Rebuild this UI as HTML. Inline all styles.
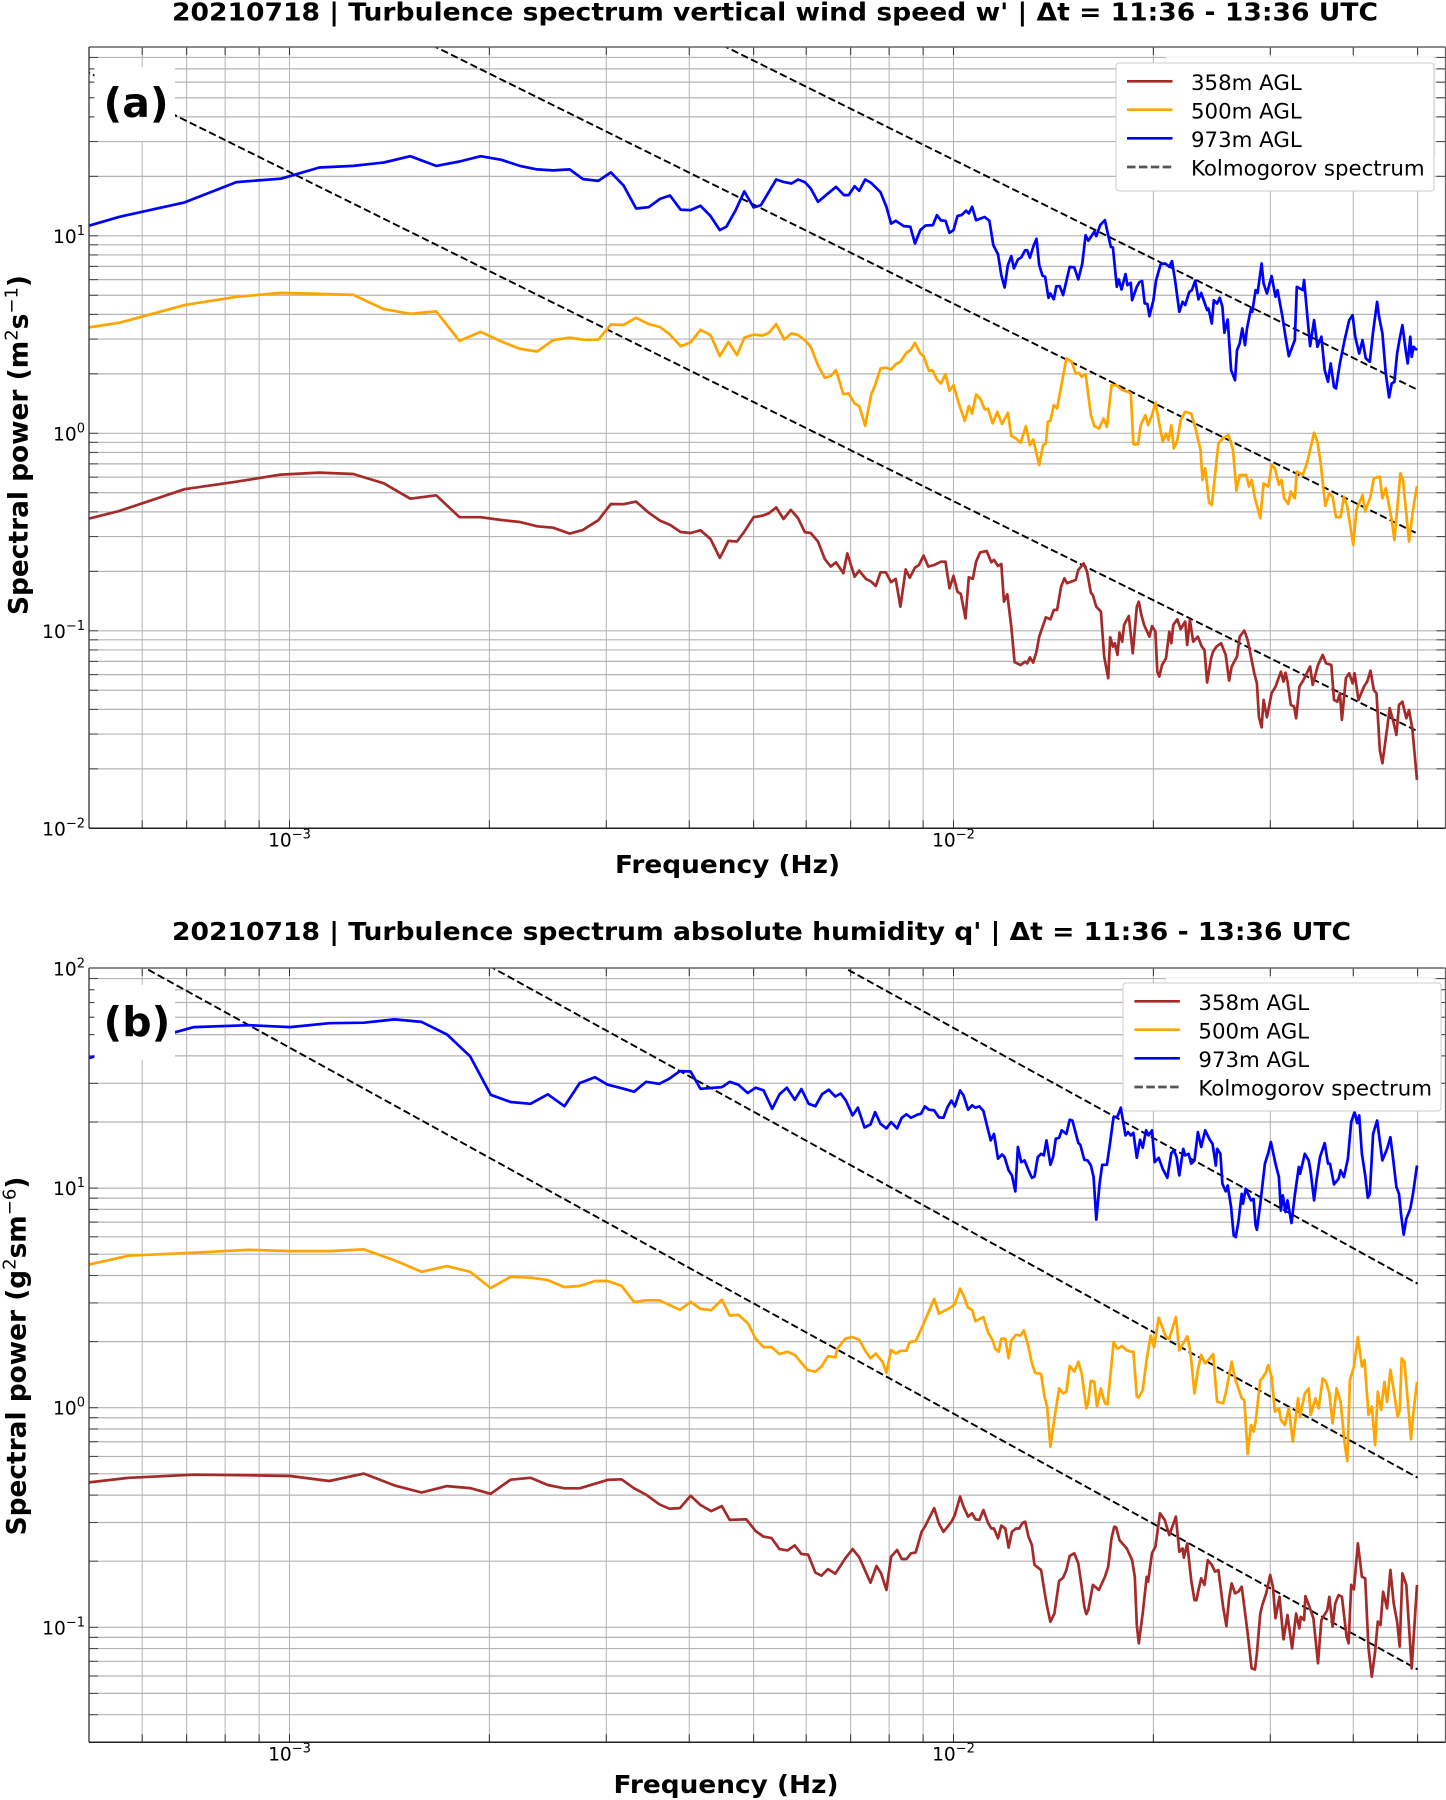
<!DOCTYPE html>
<html lang="en">
<head>
<meta charset="utf-8">
<title>Turbulence spectra</title>
<style>
html,body{margin:0;padding:0;background:#fff;}
svg{display:block;}
text{font-family:"DejaVu Sans","Liberation Sans",sans-serif;fill:#000;}
.title{font-size:24.5px;font-weight:bold;}
.axlabel{font-size:25px;font-weight:bold;}
.ylabel{font-size:26.4px;font-weight:bold;}
.tick{font-size:18.6px;}
.tsup{font-size:13px;}
.leg{font-size:21.3px;}
.panel{font-size:41px;font-weight:bold;}
</style>
</head>
<body>
<svg id="figure" width="1446" height="1800" viewBox="0 0 1446 1800" xmlns="http://www.w3.org/2000/svg">
<defs>
<clipPath id="clipA"><rect x="89" y="47" width="1357" height="781"/></clipPath>
<clipPath id="clipB"><rect x="89" y="968" width="1357" height="774"/></clipPath>
</defs>
<g id="chartA"></g>
<g id="chartB"></g>

<text class="title" x="172" y="20.5" textLength="1206" lengthAdjust="spacingAndGlyphs">20210718 | Turbulence spectrum vertical wind speed w' | Δt = 11:36 - 13:36 UTC</text>
<text class="title" x="172" y="940" textLength="1179" lengthAdjust="spacingAndGlyphs">20210718 | Turbulence spectrum absolute humidity q' | Δt = 11:36 - 13:36 UTC</text>

<text class="axlabel" x="615" y="873" textLength="225" lengthAdjust="spacingAndGlyphs">Frequency (Hz)</text>
<text class="axlabel" x="613.5" y="1793" textLength="225" lengthAdjust="spacingAndGlyphs">Frequency (Hz)</text>

<text class="ylabel" text-anchor="middle" transform="translate(27.5,445) rotate(-90)">Spectral power (m<tspan dy="-10" font-size="18" font-weight="normal">2</tspan><tspan dy="10">s</tspan><tspan dy="-10" font-size="18" font-weight="normal">−1</tspan><tspan dy="10">)</tspan></text>
<text class="ylabel" text-anchor="middle" transform="translate(25.5,1356) rotate(-90)">Spectral power (g<tspan dy="-10" font-size="18" font-weight="normal">2</tspan><tspan dy="10">sm</tspan><tspan dy="-10" font-size="18" font-weight="normal">−6</tspan><tspan dy="10">)</tspan></text>

<g>
<rect x="94.5" y="67" width="80.5" height="74" fill="#fff"/>
<text class="panel" x="103.5" y="117">(a)</text>
</g>
<g>
<rect x="94.5" y="985" width="80.5" height="75" fill="#fff"/>
<text class="panel" x="103.5" y="1036">(b)</text>
</g>

<g>
<rect x="1165" y="57" width="270" height="100" rx="3" fill="#fff" stroke="#eee" stroke-width="1"/>
<rect x="1116" y="63" width="318" height="128" rx="3" fill="#fff" stroke="#ccc" stroke-width="1"/>
<line x1="1127" x2="1172.5" y1="81.3" y2="81.3" stroke="#a52a2a" stroke-width="2.7"/>
<line x1="1127" x2="1172.5" y1="109.7" y2="109.7" stroke="#ffa500" stroke-width="2.7"/>
<line x1="1127" x2="1172.5" y1="138.3" y2="138.3" stroke="#0000ff" stroke-width="2.7"/>
<line x1="1127" x2="1172.5" y1="167" y2="167" stroke="#555" stroke-width="2.7" stroke-dasharray="8.5 3.4"/>
<text class="leg" x="1191" y="90">358m AGL</text>
<text class="leg" x="1191" y="118.5">500m AGL</text>
<text class="leg" x="1191" y="147">973m AGL</text>
<text class="leg" x="1191" y="175.5">Kolmogorov spectrum</text>
</g>

<g>
<rect x="1165" y="978" width="270" height="100" rx="3" fill="#fff" stroke="#eee" stroke-width="1"/>
<rect x="1123" y="983" width="318" height="128" rx="3" fill="#fff" stroke="#ccc" stroke-width="1"/>
<line x1="1134.4" x2="1179.9" y1="1001.3" y2="1001.3" stroke="#a52a2a" stroke-width="2.7"/>
<line x1="1134.4" x2="1179.9" y1="1029.7" y2="1029.7" stroke="#ffa500" stroke-width="2.7"/>
<line x1="1134.4" x2="1179.9" y1="1058.3" y2="1058.3" stroke="#0000ff" stroke-width="2.7"/>
<line x1="1134.4" x2="1179.9" y1="1087" y2="1087" stroke="#555" stroke-width="2.7" stroke-dasharray="8.5 3.4"/>
<text class="leg" x="1198.4" y="1010">358m AGL</text>
<text class="leg" x="1198.4" y="1038.5">500m AGL</text>
<text class="leg" x="1198.4" y="1067">973m AGL</text>
<text class="leg" x="1198.4" y="1095.5">Kolmogorov spectrum</text>
</g>
</svg>

<script>
// All spectrum values are log10 of the plotted quantity (both axes are logarithmic).
const xTickExponents = [-3, -2];
const minorMultipliers = [2, 3, 4, 5, 6, 7, 8, 9];
const yTickExponentsA = [-2, -1, 0, 1];
const yTickExponentsB = [-1, 0, 1, 2];
const kolmogorovEndPowerA = [0.031, 0.31, 1.66];
const kolmogorovEndPowerB = [0.0643, 0.48, 3.67];
const kolmogorovEndFrequency = [0.05];
const kolmogorovStartFrequency = [0.0004];

const logFreqLowA = [-3.302,-3.256,-3.158,-3.080,-3.013,-2.955,-2.904,-2.858,-2.818,-2.779,-2.744,-2.712,-2.681,-2.653,-2.627,-2.603,-2.578,-2.558,-2.535,-2.516,-2.497,-2.478,-2.459,-2.442,-2.427,-2.411,-2.396,-2.381,-2.366,-2.352];

const logPowerLowA973 = [1.051,1.096,1.169,1.272,1.289,1.346,1.354,1.371,1.403,1.354,1.376,1.403,1.385,1.354,1.336,1.331,1.336,1.287,1.278,1.321,1.255,1.138,1.145,1.187,1.204,1.132,1.130,1.152,1.100,1.029];
const logFreqHighA973 = [-2.342,-2.328,-2.315,-2.301,-2.290,-2.267,-2.255,-2.244,-2.234,-2.224,-2.215,-2.204,-2.177,-2.165,-2.158,-2.149,-2.142,-2.133,-2.124,-2.110,-2.101,-2.094,-2.087,-2.075,-2.065,-2.058,-2.050,-2.042,-2.031,-2.025,-2.019,-2.012,-2.006,-2.000,-1.994,-1.988,-1.981,-1.977,-1.972,-1.966,-1.953,-1.946,-1.940,-1.933,-1.928,-1.923,-1.918,-1.913,-1.909,-1.903,-1.898,-1.892,-1.889,-1.885,-1.879,-1.875,-1.871,-1.866,-1.862,-1.857,-1.854,-1.849,-1.845,-1.840,-1.835,-1.825,-1.818,-1.812,-1.806,-1.801,-1.797,-1.788,-1.785,-1.779,-1.772,-1.766,-1.763,-1.760,-1.754,-1.751,-1.747,-1.741,-1.738,-1.733,-1.731,-1.724,-1.720,-1.716,-1.712,-1.708,-1.705,-1.699,-1.695,-1.688,-1.681,-1.675,-1.671,-1.666,-1.660,-1.655,-1.651,-1.645,-1.641,-1.636,-1.631,-1.627,-1.618,-1.616,-1.611,-1.608,-1.603,-1.599,-1.595,-1.592,-1.587,-1.582,-1.576,-1.573,-1.569,-1.565,-1.561,-1.558,-1.552,-1.550,-1.545,-1.542,-1.536,-1.533,-1.528,-1.521,-1.515,-1.512,-1.505,-1.500,-1.495,-1.486,-1.483,-1.474,-1.472,-1.467,-1.463,-1.457,-1.452,-1.446,-1.441,-1.436,-1.432,-1.427,-1.424,-1.418,-1.411,-1.404,-1.399,-1.395,-1.389,-1.384,-1.379,-1.373,-1.368,-1.362,-1.359,-1.354,-1.349,-1.344,-1.340,-1.336,-1.332,-1.328,-1.324,-1.319,-1.316,-1.312,-1.310,-1.307,-1.302];
const logPowerHighA973 = [1.046,1.130,1.225,1.144,1.155,1.285,1.272,1.265,1.285,1.272,1.240,1.172,1.248,1.206,1.206,1.251,1.228,1.285,1.268,1.221,1.147,1.062,1.076,1.049,1.046,0.961,1.029,1.052,1.054,1.105,1.078,1.076,1.015,1.029,1.100,1.105,1.127,1.113,1.147,1.079,1.095,1.076,0.953,0.907,0.801,0.738,0.852,0.897,0.835,0.880,0.890,0.927,0.927,0.889,0.953,0.985,0.852,0.798,0.793,0.686,0.708,0.679,0.745,0.745,0.700,0.843,0.840,0.779,0.860,1.003,0.975,1.020,0.998,1.054,1.079,0.987,0.944,0.941,0.742,0.779,0.728,0.806,0.750,0.762,0.674,0.742,0.765,0.771,0.658,0.654,0.593,0.674,0.772,0.857,0.860,0.843,0.872,0.767,0.615,0.666,0.649,0.715,0.725,0.772,0.678,0.711,0.624,0.632,0.556,0.674,0.657,0.686,0.640,0.509,0.576,0.320,0.269,0.421,0.455,0.531,0.446,0.531,0.632,0.615,0.725,0.711,0.860,0.759,0.708,0.796,0.691,0.725,0.598,0.489,0.391,0.472,0.742,0.725,0.776,0.590,0.441,0.573,0.438,0.489,0.320,0.261,0.354,0.235,0.227,0.354,0.472,0.573,0.598,0.489,0.404,0.472,0.379,0.362,0.514,0.666,0.590,0.506,0.303,0.182,0.252,0.261,0.404,0.480,0.548,0.421,0.354,0.489,0.387,0.438,0.421];

const logPowerLowA500 = [0.536,0.560,0.649,0.691,0.711,0.706,0.701,0.629,0.605,0.617,0.468,0.514,0.465,0.428,0.414,0.472,0.484,0.474,0.474,0.551,0.549,0.585,0.553,0.538,0.500,0.441,0.460,0.524,0.497,0.391];
const logFreqHighA500 = [-2.339,-2.326,-2.315,-2.301,-2.288,-2.278,-2.267,-2.255,-2.244,-2.234,-2.224,-2.215,-2.204,-2.194,-2.185,-2.177,-2.166,-2.158,-2.149,-2.142,-2.133,-2.124,-2.118,-2.110,-2.101,-2.094,-2.087,-2.080,-2.071,-2.064,-2.058,-2.050,-2.045,-2.037,-2.032,-2.025,-2.019,-2.012,-2.006,-2.000,-1.992,-1.983,-1.977,-1.972,-1.966,-1.960,-1.953,-1.948,-1.941,-1.934,-1.927,-1.918,-1.913,-1.906,-1.899,-1.891,-1.885,-1.880,-1.871,-1.865,-1.861,-1.858,-1.854,-1.849,-1.844,-1.838,-1.830,-1.822,-1.816,-1.811,-1.807,-1.801,-1.793,-1.788,-1.781,-1.774,-1.769,-1.762,-1.755,-1.746,-1.737,-1.733,-1.729,-1.727,-1.722,-1.718,-1.711,-1.707,-1.701,-1.696,-1.691,-1.685,-1.680,-1.676,-1.672,-1.668,-1.663,-1.658,-1.651,-1.642,-1.635,-1.628,-1.625,-1.621,-1.615,-1.611,-1.601,-1.594,-1.586,-1.579,-1.574,-1.569,-1.559,-1.555,-1.551,-1.546,-1.538,-1.533,-1.526,-1.521,-1.516,-1.510,-1.506,-1.502,-1.496,-1.492,-1.486,-1.483,-1.474,-1.467,-1.457,-1.452,-1.447,-1.440,-1.434,-1.429,-1.424,-1.417,-1.412,-1.407,-1.398,-1.393,-1.384,-1.380,-1.372,-1.367,-1.358,-1.354,-1.349,-1.340,-1.336,-1.327,-1.323,-1.314,-1.308,-1.302];
const logPowerHighA500 = [0.463,0.396,0.484,0.500,0.495,0.509,0.553,0.475,0.506,0.497,0.472,0.438,0.345,0.281,0.290,0.320,0.198,0.202,0.151,0.138,0.038,0.197,0.244,0.328,0.332,0.323,0.350,0.362,0.408,0.424,0.458,0.404,0.391,0.316,0.320,0.273,0.252,0.300,0.215,0.244,0.151,0.063,0.138,0.100,0.197,0.176,0.121,0.124,0.050,0.109,0.047,0.104,-0.014,-0.026,-0.048,0.036,-0.060,-0.031,-0.161,-0.060,-0.052,0.058,0.063,0.143,0.126,0.235,0.379,0.362,0.303,0.306,0.286,0.300,0.092,0.036,0.024,0.075,0.033,0.244,0.244,0.219,0.210,0.202,-0.052,-0.057,-0.055,0.041,0.092,0.041,0.092,0.156,0.067,-0.043,-0.001,-0.035,0.041,-0.077,-0.035,0.067,0.109,0.100,0.016,-0.085,-0.236,-0.177,-0.351,-0.363,-0.051,-0.025,-0.008,-0.084,-0.290,-0.211,-0.211,-0.270,-0.236,-0.329,-0.430,-0.253,-0.270,-0.160,-0.177,-0.261,-0.236,-0.329,-0.358,-0.295,-0.329,-0.194,-0.211,-0.143,0.003,-0.042,-0.152,-0.368,-0.304,-0.321,-0.425,-0.425,-0.321,-0.371,-0.565,-0.388,-0.312,-0.396,-0.321,-0.228,-0.219,-0.329,-0.278,-0.439,-0.540,-0.202,-0.236,-0.548,-0.388,-0.267];

const logPowerLowA358 = [-0.432,-0.393,-0.283,-0.245,-0.209,-0.199,-0.206,-0.253,-0.331,-0.314,-0.425,-0.425,-0.439,-0.449,-0.471,-0.478,-0.508,-0.489,-0.440,-0.358,-0.359,-0.346,-0.402,-0.442,-0.464,-0.500,-0.505,-0.491,-0.535,-0.631];
const logFreqHighA358 = [-2.347,-2.339,-2.326,-2.315,-2.301,-2.288,-2.278,-2.267,-2.256,-2.245,-2.234,-2.224,-2.215,-2.204,-2.194,-2.185,-2.177,-2.166,-2.160,-2.149,-2.142,-2.132,-2.124,-2.117,-2.110,-2.102,-2.094,-2.087,-2.080,-2.072,-2.066,-2.058,-2.052,-2.045,-2.038,-2.029,-2.019,-2.012,-2.006,-2.000,-1.994,-1.989,-1.982,-1.977,-1.971,-1.966,-1.960,-1.950,-1.943,-1.939,-1.933,-1.928,-1.924,-1.919,-1.913,-1.908,-1.899,-1.892,-1.889,-1.885,-1.880,-1.875,-1.871,-1.861,-1.854,-1.849,-1.844,-1.838,-1.833,-1.829,-1.816,-1.812,-1.804,-1.799,-1.793,-1.790,-1.785,-1.778,-1.773,-1.767,-1.764,-1.760,-1.757,-1.753,-1.750,-1.746,-1.743,-1.736,-1.730,-1.724,-1.721,-1.717,-1.713,-1.705,-1.701,-1.696,-1.693,-1.690,-1.686,-1.680,-1.675,-1.672,-1.669,-1.663,-1.658,-1.651,-1.648,-1.644,-1.639,-1.632,-1.626,-1.622,-1.618,-1.612,-1.609,-1.604,-1.597,-1.590,-1.585,-1.581,-1.573,-1.569,-1.562,-1.557,-1.547,-1.543,-1.540,-1.536,-1.533,-1.528,-1.521,-1.515,-1.507,-1.503,-1.500,-1.497,-1.492,-1.487,-1.484,-1.479,-1.473,-1.463,-1.459,-1.451,-1.444,-1.439,-1.431,-1.427,-1.422,-1.418,-1.415,-1.409,-1.404,-1.399,-1.396,-1.390,-1.382,-1.377,-1.372,-1.367,-1.363,-1.358,-1.354,-1.347,-1.343,-1.337,-1.333,-1.329,-1.324,-1.318,-1.314,-1.309,-1.302];
const logPowerHighA358 = [-0.599,-0.545,-0.548,-0.498,-0.425,-0.417,-0.405,-0.375,-0.434,-0.388,-0.430,-0.501,-0.505,-0.548,-0.636,-0.675,-0.653,-0.709,-0.608,-0.726,-0.695,-0.737,-0.751,-0.773,-0.704,-0.704,-0.754,-0.737,-0.878,-0.689,-0.731,-0.680,-0.667,-0.619,-0.675,-0.667,-0.650,-0.650,-0.785,-0.722,-0.802,-0.813,-0.937,-0.729,-0.737,-0.650,-0.603,-0.596,-0.653,-0.641,-0.672,-0.662,-0.852,-0.815,-0.979,-1.159,-1.173,-1.156,-1.165,-1.134,-1.161,-1.105,-1.030,-0.932,-0.942,-0.894,-0.894,-0.776,-0.734,-0.759,-0.743,-0.692,-0.658,-0.700,-0.807,-0.819,-0.878,-0.903,-1.131,-1.240,-1.033,-1.080,-1.063,-1.122,-1.009,-1.055,-0.970,-0.925,-1.114,-0.878,-0.852,-0.920,-0.970,-1.030,-0.976,-1.004,-1.207,-1.232,-1.173,-1.139,-1.004,-1.063,-0.970,-0.942,-0.992,-0.953,-1.072,-0.945,-1.055,-1.030,-1.080,-1.097,-1.262,-1.139,-1.105,-1.080,-1.063,-1.122,-1.252,-1.181,-1.131,-1.030,-0.999,-1.047,-1.215,-1.266,-1.435,-1.489,-1.350,-1.438,-1.316,-1.283,-1.207,-1.257,-1.212,-1.257,-1.375,-1.384,-1.443,-1.283,-1.249,-1.181,-1.274,-1.173,-1.122,-1.164,-1.173,-1.350,-1.359,-1.316,-1.451,-1.240,-1.215,-1.266,-1.215,-1.350,-1.283,-1.257,-1.202,-1.300,-1.316,-1.603,-1.671,-1.494,-1.392,-1.468,-1.527,-1.375,-1.359,-1.443,-1.401,-1.494,-1.755];

const logFreqLowB973 = [-3.302,-3.172,-3.144,-3.061,-2.999,-2.940,-2.888,-2.842,-2.801,-2.763,-2.728,-2.697,-2.667,-2.637,-2.611,-2.586,-2.563,-2.540,-2.521,-2.500,-2.481,-2.463,-2.443,-2.428,-2.412,-2.396,-2.381,-2.349];
const logPowerLowB973 = [1.592,1.710,1.733,1.742,1.733,1.751,1.753,1.768,1.757,1.700,1.600,1.425,1.392,1.384,1.427,1.373,1.478,1.505,1.471,1.455,1.439,1.484,1.475,1.498,1.533,1.531,1.452,1.460];
const logFreqHighB973 = [-2.347,-2.337,-2.324,-2.310,-2.298,-2.286,-2.273,-2.262,-2.251,-2.239,-2.229,-2.218,-2.208,-2.198,-2.188,-2.178,-2.170,-2.162,-2.152,-2.144,-2.134,-2.125,-2.118,-2.110,-2.101,-2.094,-2.085,-2.078,-2.071,-2.064,-2.055,-2.049,-2.043,-2.037,-2.029,-2.022,-2.015,-2.009,-2.003,-1.998,-1.990,-1.985,-1.978,-1.972,-1.967,-1.961,-1.955,-1.948,-1.944,-1.939,-1.933,-1.927,-1.923,-1.917,-1.912,-1.907,-1.903,-1.898,-1.893,-1.887,-1.882,-1.878,-1.873,-1.868,-1.864,-1.860,-1.854,-1.850,-1.846,-1.841,-1.837,-1.830,-1.825,-1.821,-1.812,-1.809,-1.803,-1.798,-1.793,-1.789,-1.785,-1.780,-1.776,-1.769,-1.764,-1.759,-1.753,-1.748,-1.741,-1.737,-1.733,-1.729,-1.724,-1.719,-1.715,-1.710,-1.706,-1.701,-1.697,-1.691,-1.685,-1.678,-1.672,-1.668,-1.664,-1.660,-1.654,-1.651,-1.646,-1.642,-1.637,-1.632,-1.627,-1.621,-1.614,-1.610,-1.605,-1.603,-1.598,-1.595,-1.590,-1.587,-1.582,-1.578,-1.575,-1.571,-1.566,-1.564,-1.560,-1.552,-1.548,-1.545,-1.543,-1.538,-1.531,-1.526,-1.522,-1.515,-1.510,-1.507,-1.504,-1.500,-1.497,-1.491,-1.486,-1.480,-1.478,-1.471,-1.465,-1.462,-1.457,-1.453,-1.448,-1.441,-1.436,-1.433,-1.427,-1.420,-1.417,-1.412,-1.406,-1.401,-1.396,-1.392,-1.389,-1.385,-1.380,-1.376,-1.373,-1.368,-1.362,-1.354,-1.347,-1.342,-1.338,-1.333,-1.329,-1.326,-1.322,-1.318,-1.312,-1.308,-1.302];
const logPowerHighB973 = [1.463,1.484,1.471,1.433,1.457,1.445,1.361,1.427,1.457,1.402,1.451,1.384,1.373,1.427,1.448,1.417,1.431,1.399,1.331,1.366,1.276,1.290,1.346,1.293,1.272,1.301,1.272,1.320,1.336,1.320,1.334,1.339,1.372,1.357,1.354,1.322,1.320,1.369,1.399,1.372,1.445,1.422,1.357,1.377,1.366,1.372,1.351,1.266,1.217,1.247,1.134,1.153,1.141,1.081,1.058,0.985,1.187,1.118,1.126,1.081,1.047,1.053,1.141,1.156,1.149,1.217,1.106,1.141,1.225,1.229,1.263,1.247,1.311,1.308,1.206,1.197,1.129,1.126,1.103,1.050,0.856,1.020,1.106,1.106,1.210,1.323,1.326,1.366,1.240,1.255,1.240,1.252,1.138,1.220,1.184,1.263,1.240,1.263,1.118,1.138,1.088,1.047,1.159,1.172,1.141,1.058,1.179,1.149,1.156,1.111,1.126,1.255,1.187,1.263,1.220,1.202,1.103,1.179,1.156,1.020,0.985,1.012,0.913,0.784,0.777,0.845,0.974,0.929,0.997,0.944,0.951,0.830,0.810,0.929,1.111,1.159,1.210,1.111,1.050,0.898,0.967,0.891,0.944,0.841,0.967,1.096,1.065,1.156,1.126,1.073,0.944,1.043,1.141,1.205,1.111,1.111,1.017,1.043,1.081,1.050,1.134,1.301,1.346,1.296,1.331,1.156,1.058,0.956,0.974,1.247,1.308,1.126,1.179,1.232,1.134,1.005,0.974,0.883,0.788,0.860,0.906,0.974,1.103];

const logFreqLowB500 = [-3.302,-3.242,-3.144,-3.061,-2.999,-2.940,-2.888,-2.842,-2.801,-2.763,-2.728,-2.697,-2.667,-2.637,-2.611,-2.586,-2.563,-2.540,-2.521,-2.500,-2.481,-2.463,-2.443,-2.412,-2.396,-2.381,-2.365,-2.349];
const logPowerLowB500 = [0.652,0.692,0.706,0.719,0.713,0.713,0.721,0.671,0.619,0.645,0.619,0.545,0.596,0.592,0.581,0.549,0.554,0.577,0.577,0.555,0.481,0.489,0.489,0.446,0.482,0.450,0.444,0.492];
const logFreqHighB500 = [-2.347,-2.337,-2.324,-2.309,-2.298,-2.286,-2.274,-2.262,-2.250,-2.239,-2.220,-2.208,-2.199,-2.189,-2.178,-2.175,-2.163,-2.153,-2.142,-2.132,-2.125,-2.117,-2.107,-2.101,-2.094,-2.087,-2.080,-2.071,-2.066,-2.057,-2.045,-2.029,-2.022,-2.003,-1.998,-1.990,-1.985,-1.978,-1.972,-1.967,-1.955,-1.948,-1.941,-1.937,-1.932,-1.928,-1.922,-1.917,-1.913,-1.906,-1.899,-1.894,-1.887,-1.882,-1.877,-1.868,-1.863,-1.859,-1.854,-1.848,-1.841,-1.835,-1.830,-1.825,-1.818,-1.812,-1.807,-1.800,-1.797,-1.793,-1.788,-1.784,-1.778,-1.772,-1.768,-1.760,-1.759,-1.753,-1.746,-1.739,-1.733,-1.729,-1.724,-1.721,-1.715,-1.709,-1.703,-1.698,-1.691,-1.680,-1.675,-1.665,-1.660,-1.648,-1.644,-1.642,-1.637,-1.632,-1.627,-1.621,-1.614,-1.609,-1.603,-1.594,-1.590,-1.581,-1.576,-1.571,-1.566,-1.562,-1.557,-1.552,-1.548,-1.545,-1.538,-1.535,-1.529,-1.526,-1.521,-1.516,-1.510,-1.507,-1.501,-1.495,-1.489,-1.481,-1.478,-1.471,-1.465,-1.462,-1.455,-1.450,-1.444,-1.439,-1.434,-1.429,-1.423,-1.417,-1.411,-1.407,-1.403,-1.397,-1.391,-1.385,-1.381,-1.375,-1.370,-1.365,-1.361,-1.356,-1.351,-1.347,-1.342,-1.337,-1.331,-1.328,-1.325,-1.321,-1.311,-1.308,-1.302];
const logPowerHighB500 = [0.481,0.420,0.423,0.382,0.314,0.276,0.276,0.244,0.255,0.240,0.172,0.164,0.187,0.235,0.229,0.268,0.314,0.322,0.309,0.255,0.225,0.247,0.209,0.159,0.263,0.247,0.258,0.260,0.299,0.303,0.382,0.496,0.428,0.458,0.473,0.542,0.511,0.455,0.446,0.394,0.413,0.344,0.306,0.268,0.255,0.314,0.314,0.225,0.306,0.332,0.329,0.352,0.276,0.202,0.159,0.153,0.050,0.005,-0.178,-0.049,0.088,0.065,0.073,0.190,0.164,0.209,0.156,-0.003,0.027,0.123,0.118,0.005,0.088,0.020,0.015,0.263,0.299,0.268,0.281,0.261,0.255,0.255,0.050,0.047,0.080,0.220,0.329,0.276,0.410,0.322,0.314,0.413,0.261,0.325,0.268,0.217,0.065,0.172,0.240,0.202,0.225,0.244,0.027,0.020,0.065,0.209,0.134,0.088,0.043,0.035,-0.211,-0.079,-0.109,-0.064,0.126,0.134,0.164,0.194,0.141,-0.018,-0.003,-0.056,-0.079,-0.003,-0.155,0.043,-0.041,0.065,0.088,-0.033,0.043,-0.003,0.134,0.118,0.065,-0.071,0.088,0.027,-0.162,-0.243,0.126,0.187,0.322,0.187,0.217,-0.033,0.005,-0.170,0.073,-0.011,0.118,0.027,0.172,0.080,-0.041,-0.011,0.225,0.209,-0.144,-0.041,0.118];

const logFreqLowB358 = [-3.302,-3.242,-3.144,-3.061,-2.999,-2.940,-2.888,-2.842,-2.801,-2.763,-2.728,-2.697,-2.667,-2.637,-2.611,-2.586,-2.563,-2.521,-2.500,-2.481,-2.463,-2.443,-2.428,-2.412,-2.396,-2.381,-2.365,-2.349];
const logPowerLowB358 = [-0.340,-0.319,-0.305,-0.308,-0.311,-0.334,-0.300,-0.354,-0.386,-0.357,-0.366,-0.392,-0.328,-0.319,-0.352,-0.367,-0.367,-0.329,-0.326,-0.367,-0.396,-0.440,-0.460,-0.457,-0.401,-0.443,-0.471,-0.448];
const logFreqHighB358 = [-2.347,-2.337,-2.312,-2.298,-2.286,-2.274,-2.262,-2.250,-2.239,-2.229,-2.219,-2.208,-2.199,-2.189,-2.178,-2.163,-2.152,-2.142,-2.125,-2.116,-2.109,-2.101,-2.094,-2.085,-2.078,-2.071,-2.064,-2.057,-2.048,-2.043,-2.029,-2.022,-2.015,-2.003,-1.998,-1.990,-1.985,-1.978,-1.972,-1.967,-1.961,-1.955,-1.948,-1.943,-1.939,-1.933,-1.928,-1.922,-1.917,-1.912,-1.906,-1.901,-1.896,-1.892,-1.887,-1.882,-1.878,-1.868,-1.863,-1.859,-1.854,-1.848,-1.841,-1.835,-1.830,-1.825,-1.818,-1.812,-1.807,-1.803,-1.800,-1.797,-1.790,-1.785,-1.781,-1.772,-1.767,-1.762,-1.758,-1.755,-1.750,-1.739,-1.731,-1.727,-1.724,-1.721,-1.715,-1.709,-1.707,-1.701,-1.696,-1.689,-1.682,-1.675,-1.665,-1.660,-1.655,-1.653,-1.648,-1.642,-1.637,-1.634,-1.631,-1.627,-1.622,-1.617,-1.611,-1.606,-1.601,-1.594,-1.589,-1.585,-1.581,-1.576,-1.571,-1.566,-1.562,-1.557,-1.551,-1.546,-1.543,-1.538,-1.535,-1.529,-1.523,-1.519,-1.515,-1.509,-1.503,-1.497,-1.490,-1.484,-1.479,-1.477,-1.472,-1.470,-1.464,-1.458,-1.451,-1.446,-1.437,-1.434,-1.429,-1.425,-1.420,-1.415,-1.408,-1.405,-1.401,-1.397,-1.391,-1.385,-1.380,-1.375,-1.370,-1.365,-1.361,-1.357,-1.353,-1.347,-1.342,-1.337,-1.332,-1.328,-1.324,-1.318,-1.310,-1.302];
const logPowerHighB358 = [-0.458,-0.511,-0.508,-0.562,-0.587,-0.594,-0.644,-0.650,-0.627,-0.666,-0.669,-0.751,-0.765,-0.735,-0.756,-0.686,-0.644,-0.681,-0.797,-0.721,-0.754,-0.830,-0.678,-0.648,-0.689,-0.689,-0.663,-0.659,-0.565,-0.542,-0.457,-0.527,-0.565,-0.519,-0.489,-0.405,-0.451,-0.496,-0.481,-0.508,-0.511,-0.466,-0.524,-0.550,-0.550,-0.595,-0.537,-0.550,-0.637,-0.565,-0.550,-0.550,-0.524,-0.519,-0.587,-0.625,-0.716,-0.739,-0.838,-0.906,-0.975,-0.937,-0.789,-0.774,-0.739,-0.675,-0.663,-0.709,-0.815,-0.906,-0.940,-0.921,-0.807,-0.820,-0.830,-0.770,-0.724,-0.595,-0.542,-0.545,-0.603,-0.641,-0.694,-0.770,-0.990,-1.073,-0.937,-0.770,-0.792,-0.663,-0.633,-0.481,-0.511,-0.580,-0.496,-0.656,-0.641,-0.683,-0.618,-0.785,-0.876,-0.876,-0.830,-0.777,-0.807,-0.694,-0.716,-0.747,-0.739,-0.906,-0.994,-0.868,-0.800,-0.845,-0.838,-0.815,-0.906,-1.028,-1.187,-1.192,-1.119,-0.937,-0.899,-0.845,-0.762,-0.815,-0.959,-0.861,-1.055,-0.944,-1.096,-0.937,-1.005,-0.952,-0.967,-0.858,-0.906,-0.959,-1.164,-0.967,-0.921,-0.861,-0.997,-0.891,-0.853,-0.861,-1.043,-1.073,-0.807,-0.827,-0.618,-0.770,-0.777,-1.096,-1.225,-1.111,-0.974,-0.990,-0.838,-0.914,-0.739,-0.891,-0.974,-1.088,-0.754,-0.807,-1.187,-0.807];

const NS = 'http://www.w3.org/2000/svg';
const X0 = 289.5, XDEC = 664, XL = 89, XR = 1445.5;

function xPos(logF) { return X0 + XDEC * (logF + 3); }

function addLine(parent, name, x1, y1, x2, y2, color, width) {
  const el = document.createElementNS(NS, 'line');
  
  
  el.setAttribute('x1', x1);
  el.setAttribute('y1', y1);
  el.setAttribute('x2', x2);
  el.setAttribute('y2', y2);
  el.setAttribute('stroke', color);
  el.setAttribute('stroke-width', width);
  parent.appendChild(el);
  return el;
}

function addPower(parent, name, x, y, anchor, exponent) {
  const el = document.createElementNS(NS, 'text');
  
  
  el.setAttribute('class', 'tick');
  el.setAttribute('x', x);
  el.setAttribute('y', y);
  el.setAttribute('text-anchor', anchor);
  const base = document.createElementNS(NS, 'tspan');
  base.textContent = '10';
  el.appendChild(base);
  const sup = document.createElementNS(NS, 'tspan');
  sup.setAttribute('class', 'tsup');
  sup.setAttribute('dy', '-8');
  sup.textContent = String(exponent).replace('-', '\u2212');
  el.appendChild(sup);
  parent.appendChild(el);
}

function drawPanel(cfg) {
  const root = document.getElementById(cfg.id);
  const yPos = function (logP) { return cfg.y0 - cfg.ydec * logP; };
  const grid = document.createElementNS(NS, 'g');
  
  
  root.appendChild(grid);
  const minT = cfg.logMin, maxT = cfg.logMax;

  // vertical grid + x ticks
  const xLow = Math.floor(Math.log10(0.0005));
  for (let d = xLow; d <= -2; d++) {
    for (const m of [1].concat(minorMultipliers)) {
      const lf = d + Math.log10(m);
      const x = xPos(lf);
      if (x <= XL + 1 || x >= XR - 1) continue;
      addLine(grid, 'x-grid-line', x, cfg.top, x, cfg.bottom, '#b4b4b4', 1);
      addLine(grid, 'x-tick-bottom', x, cfg.bottom, x, cfg.bottom - 8, '#333', 1);
      addLine(grid, 'x-tick-top', x, cfg.top, x, cfg.top + 8, '#333', 1);
    }
  }
  // horizontal grid + y ticks
  for (let d = Math.floor(minT); d <= Math.ceil(maxT); d++) {
    for (const m of [1].concat(minorMultipliers)) {
      const lp = d + Math.log10(m);
      if (lp <= minT + 0.002 || lp >= maxT - 0.002) continue;
      const y = yPos(lp);
      addLine(grid, 'y-grid-line', XL, y, XR, y, '#b4b4b4', 1.2);
      addLine(grid, 'y-tick-left', XL, y, XL + 9, y, '#444', 1);
      addLine(grid, 'y-tick-right', XR, y, XR - 9, y, '#444', 1);
    }
  }

  // series and reference lines
  const plot = document.createElementNS(NS, 'g');
  
  
  plot.setAttribute('clip-path', 'url(#' + cfg.clip + ')');
  root.appendChild(plot);

  cfg.kolmogorov.forEach(function (endValue, i) {
    const logEnd = Math.log10(kolmogorovEndFrequency[0]);
    const logStart = Math.log10(kolmogorovStartFrequency[0]);
    const logV = Math.log10(endValue);
    const el = addLine(plot, 'kolmogorov-line-' + (i + 1), xPos(logStart), yPos(logV + (5 / 3) * (logEnd - logStart)), xPos(logEnd), yPos(logV), '#000', 1.9);
    el.setAttribute('stroke-dasharray', '7.4 3.4');
  });

  cfg.series.forEach(function (s) {
    const el = document.createElementNS(NS, 'polyline');
    
    
    el.setAttribute('fill', 'none');
    el.setAttribute('stroke', s.color);
    el.setAttribute('stroke-width', '2.7');
    el.setAttribute('stroke-linejoin', 'round');
    el.setAttribute('points', s.f.map(function (lf, i) {
      return xPos(lf).toFixed(1) + ',' + yPos(s.p[i]).toFixed(1);
    }).join(' '));
    plot.appendChild(el);
  });

  // spines
  addLine(root, 'spine-top', XL, cfg.top, XR, cfg.top, '#666', 1.5);
  addLine(root, 'spine-right', XR, cfg.top, XR, cfg.bottom, '#666', 1.3);
  addLine(root, 'spine-left', XL, cfg.top, XL, cfg.bottom, '#333', 1.3);
  addLine(root, 'spine-bottom', XL, cfg.bottom, XR, cfg.bottom, '#222', 1.5);

  // labels
  xTickExponents.forEach(function (e) {
    addPower(root, 'x-tick-label', xPos(e), cfg.xLabelY, 'middle', e);
  });
  cfg.yTicks.forEach(function (e) {
    addPower(root, 'y-tick-label', 85, yPos(e) + 7, 'end', e);
  });
}

drawPanel({
  id: 'chartA', clip: 'clipA', top: 47, bottom: 828.3, y0: 433.3, ydec: 197.5,
  logMin: -2, logMax: 1.955, xLabelY: 846.7, yTicks: yTickExponentsA,
  kolmogorov: kolmogorovEndPowerA,
  series: [
    { name: 'series-358m', color: '#a52a2a', f: logFreqLowA.concat(logFreqHighA358), p: logPowerLowA358.concat(logPowerHighA358) },
    { name: 'series-500m', color: '#ffa500', f: logFreqLowA.concat(logFreqHighA500), p: logPowerLowA500.concat(logPowerHighA500) },
    { name: 'series-973m', color: '#0000ff', f: logFreqLowA.concat(logFreqHighA973), p: logPowerLowA973.concat(logPowerHighA973) }
  ]
});

drawPanel({
  id: 'chartB', clip: 'clipB', top: 968, bottom: 1742.3, y0: 1407.7, ydec: 219.6,
  logMin: -1.524, logMax: 2, xLabelY: 1760.7, yTicks: yTickExponentsB,
  kolmogorov: kolmogorovEndPowerB,
  series: [
    { name: 'series-358m', color: '#a52a2a', f: logFreqLowB358.concat(logFreqHighB358), p: logPowerLowB358.concat(logPowerHighB358) },
    { name: 'series-500m', color: '#ffa500', f: logFreqLowB500.concat(logFreqHighB500), p: logPowerLowB500.concat(logPowerHighB500) },
    { name: 'series-973m', color: '#0000ff', f: logFreqLowB973.concat(logFreqHighB973), p: logPowerLowB973.concat(logPowerHighB973) }
  ]
});
</script>
</body>
</html>
